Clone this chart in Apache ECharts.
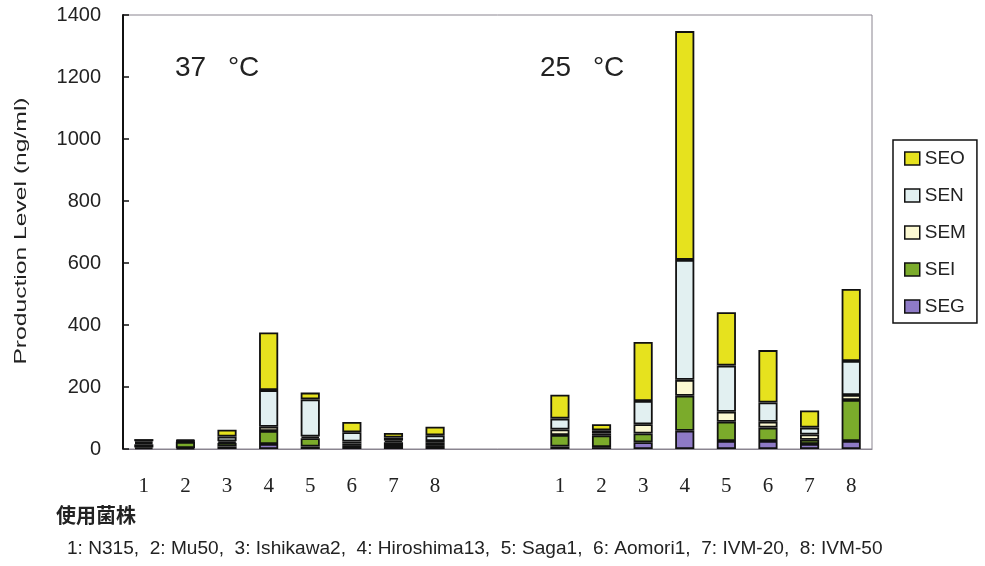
<!DOCTYPE html>
<html><head><meta charset="utf-8">
<script src="https://cdn.jsdelivr.net/npm/echarts@6/dist/echarts.min.js"></script>
<style>html,body{margin:0;padding:0;background:#fff}#c{width:985px;height:566px}</style>
</head><body><div id="c"></div>
<script>
// categories: 8 strains at 37 °C, two blank slots, 8 strains at 25 °C
const categories = ['1','2','3','4','5','6','7','8','','','1','2','3','4','5','6','7','8'];
const seriesNames = ['SEG','SEI','SEM','SEN','SEO'];
const SEG = [5, 3, 8, 16, 8, 10, 10, 10, '-', '-', 8, 6, 22, 59, 26, 26, 16, 26];
const SEI = [10, 20, 12, 42, 27, 8, 12, 10, '-', '-', 37, 38, 28, 113, 62, 43, 14, 132];
const SEM = [5, 2, 5, 14, 5, 6, 5, 6, '-', '-', 18, 6, 30, 51, 32, 19, 17, 16];
const SEN = [5, 2, 15, 118, 120, 30, 10, 18, '-', '-', 35, 10, 75, 387, 149, 62, 22, 110];
const SEO = [7, 3, 22, 186, 22, 33, 15, 28, '-', '-', 77, 20, 190, 738, 172, 169, 55, 232];
const yTicks = [0, 200, 400, 600, 800, 1000, 1200, 1400];
const legendOrder = ['SEO','SEN','SEM','SEI','SEG'];
const colors = {SEG:'#8e7ac6', SEI:'#7bab2b', SEM:'#fcf9d2', SEN:'#e2f0f1', SEO:'#e6e21e'};
const values = {SEG, SEI, SEM, SEN, SEO};
const strainNote = '1: N315,  2: Mu50,  3: Ishikawa2,  4: Hiroshima13,  5: Saga1,  6: Aomori1,  7: IVM-20,  8: IVM-50';

const chart = echarts.init(document.getElementById('c'), null, {renderer:'canvas'});
chart.setOption({
  animation: false,
  backgroundColor: '#fff',
  grid: {left: 123, right: 113, top: 15, bottom: 117, show: true, borderColor: '#8a8590', borderWidth: 1},
  legend: {
    data: legendOrder, orient: 'vertical', left: 893, top: 140,
    icon: 'rect',
    itemWidth: 15, itemHeight: 13, itemGap: 18,
    padding: [9, 11, 7, 11],
    borderColor: '#111', borderWidth: 1.5, backgroundColor: '#fff',
    textStyle: {fontFamily: 'Liberation Sans', fontSize: 19, color: '#222', padding: [0,0,0,0]},
    itemStyle: {borderColor: '#111', borderWidth: 1.5}
  },
  xAxis: {
    type: 'category', data: categories,
    axisLine: {lineStyle: {color: '#8a8590', width: 1.2}},
    axisTick: {show: false},
    axisLabel: {fontFamily: 'Liberation Serif', fontSize: 21, color: '#222', margin: 27, interval: 0}
  },
  yAxis: {
    type: 'value', min: yTicks[0], max: yTicks[yTicks.length-1], interval: 200,
    axisLine: {show: true, lineStyle: {color: '#111', width: 2}},
    axisTick: {show: true, inside: true, length: 6, lineStyle: {color: '#111', width: 1.5}},
    axisLabel: {fontFamily: 'Liberation Sans', fontSize: 20, color: '#222', margin: 22, formatter: v => String(v)},
    splitLine: {show: false}
  },
  series: seriesNames.map(n => ({
    name: n, type: 'bar', stack: 'total', barWidth: '46%',
    data: values[n],
    itemStyle: {color: colors[n], borderColor: '#111', borderWidth: 1.8}
  })),
  graphic: [
    {type: 'text', x: 21, y: 231, rotation: Math.PI / 2, scaleX: 1.45,
     style: {text: 'Production Level (ng/ml)', font: '17px "Liberation Sans"', fill: '#222', align: 'center', verticalAlign: 'middle'}},
    {type: 'text', left: 175, top: 54, style: {text: '37 \u2002°C', font: '28px "Liberation Sans"', fill: '#222'}},
    {type: 'text', left: 540, top: 54, style: {text: '25 \u2002°C', font: '28px "Liberation Sans"', fill: '#222'}},
    {type: 'text', left: 56, top: 505, style: {text: '使用菌株', font: 'bold 20px "Noto Sans CJK JP"', fill: '#222'}},
    {type: 'text', x: 67, y: 549, scaleX: 1.06,
     style: {text: strainNote, font: '18px "Liberation Sans"', fill: '#222', verticalAlign: 'middle'}}
  ]
});
</script></body></html>
